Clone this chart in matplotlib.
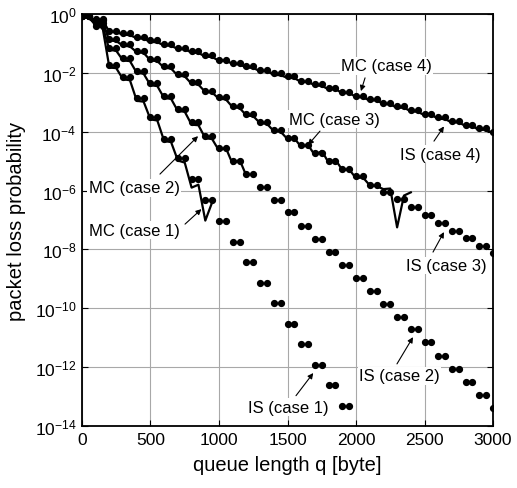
import numpy as np
import matplotlib
matplotlib.use('Agg')
import matplotlib.pyplot as plt

plt.rcParams['font.family'] = ['Liberation Sans', 'DejaVu Sans']
plt.rcParams['mathtext.fontset'] = 'custom'
plt.rcParams['mathtext.rm'] = 'Liberation Sans'

# IS estimates: log10 of loss probability, one level per 100 byte (pairs of dots at q, q+50)
is_case1 = [-0.06, -0.42, -1.73, -2.15, -2.85, -3.51, -4.25, -4.90, -5.62, -6.31,
            -7.02, -7.74, -8.44, -9.13, -9.83, -10.52, -11.22, -11.93, -12.62, -13.32]
is_case2 = [-0.06, -0.32, -1.15, -1.51, -1.92, -2.34, -2.78, -3.22, -3.68, -4.14,
            -4.56, -4.98, -5.44, -5.89, -6.31, -6.74, -7.19, -7.65, -8.10, -8.53,
            -8.97, -9.40, -9.85, -10.28, -10.71, -11.16, -11.61, -12.06, -12.49, -12.94,
            -13.38]
is_case3 = [-0.06, -0.22, -0.85, -1.02, -1.25, -1.53, -1.78, -2.05, -2.32, -2.60,
            -2.83, -3.12, -3.40, -3.66, -3.93, -4.20, -4.44, -4.73, -5.00, -5.25,
            -5.52, -5.80, -6.04, -6.29, -6.57, -6.83, -7.10, -7.36, -7.62, -7.87,
            -8.13]
is_case4 = [-0.06, -0.17, -0.57, -0.65, -0.77, -0.90, -1.02, -1.14, -1.27, -1.40,
            -1.55, -1.65, -1.77, -1.90, -2.02, -2.12, -2.26, -2.38, -2.51, -2.64,
            -2.78, -2.89, -3.01, -3.14, -3.26, -3.39, -3.51, -3.64, -3.76, -3.89,
            -4.02]

# MC simulation: log10 values every 50 byte
mc_case1 = [-0.10, -0.12, -0.38, -0.45, -1.82, -1.84, -2.22, -2.25, -2.95, -2.98,
            -3.58, -3.62, -4.32, -4.35, -4.98, -5.05, -5.90, -5.80, -7.02, -6.40]
mc_case2 = [-0.10, -0.12, -0.35, -0.40, -1.22, -1.25, -1.58, -1.60, -2.00, -2.03,
            -2.42, -2.45, -2.86, -2.88, -3.30, -3.32, -3.76, -3.78, -4.22, -4.25,
            -4.64, -4.55, -5.10, -4.95, -5.50]
mc_case3 = [-0.10, -0.12, -0.25, -0.28, -0.90, -0.92, -1.08, -1.10, -1.30, -1.32,
            -1.58, -1.60, -1.83, -1.85, -2.10, -2.12, -2.37, -2.40, -2.65, -2.67,
            -2.88, -2.90, -3.17, -3.19, -3.45, -3.47, -3.71, -3.73, -3.98, -4.00,
            -4.25, -4.22, -4.52, -4.45, -4.80, -4.65, -5.05, -4.95, -5.30, -5.28,
            -5.58, -5.55, -5.82, -5.85, -5.95, -5.93, -7.25, -6.17, -6.06]
mc_case4 = [-0.10, -0.12, -0.20, -0.22, -0.60, -0.62, -0.70, -0.72, -0.82, -0.84,
            -0.95, -0.96, -1.07, -1.08, -1.19, -1.20, -1.31, -1.32, -1.45, -1.46,
            -1.59, -1.58, -1.70, -1.71, -1.82, -1.83, -1.95, -1.94, -2.07, -2.08,
            -2.17, -2.18, -2.31, -2.30, -2.43, -2.44, -2.56, -2.55, -2.69, -2.68,
            -2.82, -2.83, -2.94, -2.93, -3.06, -3.07, -3.19, -3.18, -3.31, -3.32,
            -3.44, -3.43, -3.56, -3.57, -3.69, -3.68, -3.81, -3.82, -3.94, -3.93,
            -4.05]

step = 50
xticks = [0, 500, 1000, 1500, 2000, 2500, 3000]
yexp = [0, -2, -4, -6, -8, -10, -12, -14]

fig = plt.figure(figsize=(5.17, 4.89), dpi=100)
ax = fig.add_axes([0.1586, 0.1268, 0.795, 0.8425])

for lev, n in [(is_case1, 40), (is_case2, 61), (is_case3, 61), (is_case4, 61)]:
    v = np.repeat(lev, 2)[:n]
    q = np.arange(n) * step
    ax.plot(q, 10.0 ** v, 'o', color='k', markersize=4.2, zorder=3)

for mc in [mc_case1, mc_case2, mc_case3, mc_case4]:
    q = np.arange(len(mc)) * step
    ax.plot(q, 10.0 ** np.array(mc), '-', color='k', lw=1.6, zorder=2)

ax.set_yscale('log')
ax.set_xlim(0, 3000)
ax.set_ylim(1e-14, 1)
ax.set_xticks(xticks)
ax.set_xticklabels([str(t) for t in xticks])
ax.set_yticks([10.0 ** e for e in yexp])
ax.set_yticklabels([r'$\mathdefault{10^{%d}}$' % e for e in yexp])
ax.minorticks_off()
ax.tick_params(direction='in', length=4, width=0.8, top=True, right=True,
               labelsize=12.5, pad=4)
ax.grid(True, color='#a8a8a8', lw=0.8)
for s in ax.spines.values():
    s.set_linewidth(1.3)

ax.set_xlabel('queue length q [byte]', fontsize=14.5, labelpad=6)
ax.set_ylabel('packet loss probability', fontsize=14.5, labelpad=6)

# labels: (text, text position, arrow tail, arrow head) in data coords
labels = [
    ('MC (case 4)', (2221, -1.76), (2066, -2.17), (2036, -2.62)),
    ('MC (case 3)', (1839, -3.57), (1737, -3.98), (1650, -4.45)),
    ('IS (case 4)', (2617, -4.76), (2569, -4.32), (2642, -3.82)),
    ('MC (case 2)', (380, -5.91), (569, -5.44), (847, -4.15)),
    ('MC (case 1)', (380, -7.34), (752, -7.14), (872, -6.63)),
    ('IS (case 3)', (2657, -8.55), (2562, -8.09), (2642, -7.41)),
    ('IS (case 2)', (2318, -12.30), (2299, -11.89), (2416, -10.98)),
    ('IS (case 1)', (1504, -13.36), (1562, -12.97), (1688, -12.20)),
]
for txt, pos, tail, head in labels:
    ax.text(pos[0], 10.0 ** pos[1], txt, fontsize=12, ha='center', va='center',
            bbox=dict(facecolor='white', edgecolor='none', pad=1.0), zorder=4)
    ax.annotate('', xy=(head[0], 10.0 ** head[1]), xytext=(tail[0], 10.0 ** tail[1]),
                arrowprops=dict(arrowstyle='-|>', color='k', lw=0.8,
                                mutation_scale=8, shrinkA=0, shrinkB=0), zorder=5)

fig.savefig('out.png', dpi=100)
